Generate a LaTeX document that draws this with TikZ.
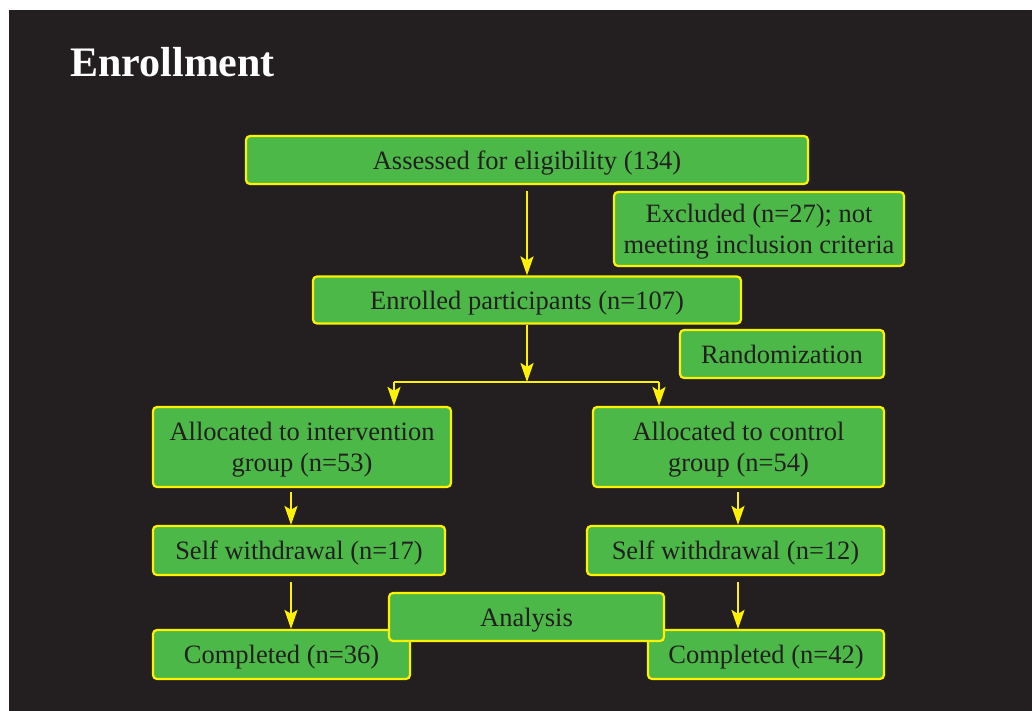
\documentclass[tikz,border=0pt]{standalone}
\usepackage{fontspec}
\setmainfont{Liberation Serif}
\usetikzlibrary{positioning,arrows.meta,calc}

\definecolor{slate}{HTML}{231F20}
\definecolor{boxgreen}{HTML}{4CB848}
\definecolor{boxyellow}{HTML}{FFF200}

\begin{document}
\begin{tikzpicture}[
  x=0.5pt, y=-0.5pt,
  every node/.style={font=\fontsize{13.25}{15.5}\selectfont},
  flow/.style={draw=boxyellow, fill=boxgreen, rounded corners=2pt, line width=1.1pt, text=slate, align=center, inner sep=0pt, text depth=0pt},
  arr/.style={draw=boxyellow, line width=1.15pt, -{Stealth[length=9.5pt, width=6.5pt, inset=2pt]}},
  link/.style={draw=boxyellow, line width=1.15pt}
]
% page and backdrop
\fill[white] (0,0) rectangle (1032,711);
\fill[slate] (9,10) rectangle (1032,711);
\useasboundingbox (0,0) rectangle (1032,711);

\node[font=\fontsize{21}{24}\selectfont\bfseries, text=white, anchor=base west, inner sep=0pt] (title) at (70,77) {Enrollment};

% boxes
\node[flow, minimum width=281pt, minimum height=24pt] (assess) at (527,160) {Assessed for eligibility (134)};
\node[flow, minimum width=145pt, minimum height=37pt] (excl) at (759,229) {Excluded (n=27); not\\meeting inclusion criteria};
\node[flow, minimum width=214pt, minimum height=23.5pt] (enrol) at (527,300) {Enrolled participants (n=107)};
\node[flow, minimum width=102pt, minimum height=24pt] (rand) at (782,354) {Randomization};
\node[flow, minimum width=149pt, minimum height=40pt] (allocI) at (302,447) {Allocated to intervention\\group (n=53)};
\node[flow, minimum width=145.5pt, minimum height=40pt] (allocC) at (738.5,447) {Allocated to control\\group (n=54)};
\node[flow, minimum width=146pt, minimum height=24.5pt] (withI) at (299,550.5) {Self withdrawal (n=17)};
\node[flow, minimum width=148.5pt, minimum height=24.5pt] (withC) at (735.5,550.5) {Self withdrawal (n=12)};
\node[flow, minimum width=128.5pt, minimum height=24.5pt] (compI) at (281.5,654.5) {Completed (n=36)};
\node[flow, minimum width=118pt, minimum height=24.5pt] (compC) at (766,654.5) {Completed (n=42)};
\node[flow, minimum width=137.5pt, minimum height=24pt] (analysis) at (526.5,617) {Analysis};

% split points
\coordinate (split) at (527,382);
\coordinate (splitL) at (394,382);
\coordinate (splitR) at (659,382);
\coordinate (colL) at (291,0);
\coordinate (colR) at (738,0);

% arrows
\draw[arr, shorten <=3pt] (assess.south) -- (enrol.north);
\draw[arr] (enrol.south) -- (split);
\draw[link] (splitL) -- (splitR);
\draw[arr] (splitL) -- (allocI.north -| splitL);
\draw[arr] (splitR) -- (allocC.north -| splitR);
\draw[arr, shorten <=2pt] (allocI.south -| colL) -- (withI.north -| colL);
\draw[arr, shorten <=2pt] (allocC.south -| colR) -- (withC.north -| colR);
\draw[arr, shorten <=3pt] (withI.south -| colL) -- (compI.north -| colL);
\draw[arr, shorten <=3pt] (withC.south -| colR) -- (compC.north -| colR);
\end{tikzpicture}
\end{document}
